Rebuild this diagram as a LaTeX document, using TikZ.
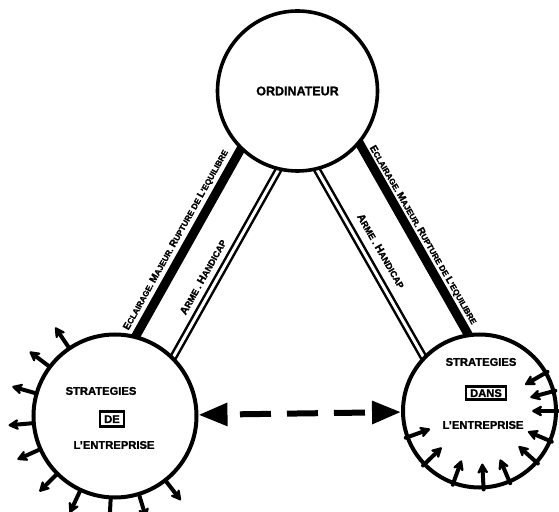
\documentclass[tikz,border=0pt]{standalone}
\usepackage{fontspec}
\setmainfont{Liberation Sans}[BoldFeatures={FakeBold=1.4}]
\usetikzlibrary{arrows.meta,calc}
\pgfdeclarelayer{bg}
\pgfsetlayers{bg,main}
\newcommand\bgsc[1]{{\fontsize{10}{10}\selectfont #1}}
\newcommand\smsc[1]{{\fontsize{8.2}{8.2}\selectfont #1}}
\newcommand\bgscb[1]{{\fontsize{10.8}{10.8}\selectfont #1}}
\newcommand\smscb[1]{{\fontsize{9}{9}\selectfont #1}}
\begin{document}
\begin{tikzpicture}[x=1pt,y=1pt,
  ring/.style={circle,draw,line width=4pt,fill=white,inner sep=0pt},
  bar/.style={line width=9pt},
  dbl/.style={double,line width=2.5pt,double distance=3pt},
  radarrow/.style={draw,line width=4pt,line cap=round,-{Stealth[length=13pt,width=14pt,inset=4.5pt,round]}},
  lbl/.style={font=\bfseries\fontsize{11.2}{12}\selectfont,inner sep=0pt},
  tagbox/.style={draw,line width=2.3pt,font=\bfseries\fontsize{11.2}{12}\selectfont,text height=8pt,text depth=0pt},
  barlbl/.style={font=\bfseries,inner sep=0pt},
  dasharrow/.style={line width=6pt,dash pattern=on 31pt off 16pt,dash phase=33pt,
    {Triangle[length=29pt,width=22pt]}-{Triangle[length=29pt,width=22pt]}}
]
\useasboundingbox (0,0) rectangle (559,511);
\node[ring,line width=3.6pt,minimum size=160pt,font=\bfseries\fontsize{12.5}{13}\selectfont] (nTop) at (297.5,420) {ORDINATEUR};
\node[ring,minimum size=163pt] (nLeft) at (115,95) {};
\node[ring,minimum size=153pt] (nRight) at (479.5,100) {};
\begin{pgfonlayer}{bg}
\draw[bar] ($(nTop.center)!21pt!-90:(nLeft.center)$) -- ($(nLeft.center)!21pt!90:(nTop.center)$);
\draw[dbl] ($(nTop.center)!22pt!90:(nLeft.center)$) -- ($(nLeft.center)!22pt!-90:(nTop.center)$);
\draw[bar] ($(nTop.center)!28pt!90:(nRight.center)$) -- ($(nRight.center)!28pt!-90:(nTop.center)$);
\draw[dbl] ($(nTop.center)!22pt!-90:(nRight.center)$) -- ($(nRight.center)!22pt!90:(nTop.center)$);
\end{pgfonlayer}
% texts inside circles
\node[lbl] (sL1) at (101,120) {STRATEGIES};
\node[tagbox,inner xsep=4.5pt,inner ysep=3.5pt] (sL2) at (112,92) {DE};
\node[lbl] (sL3) at (114,66) {L'ENTREPRISE};
\node[lbl] (sR1) at (481,149) {STRATEGIES};
\node[tagbox,inner xsep=4pt,inner ysep=2.5pt] (sR2) at (486,118) {DANS};
\node[lbl] (sR3) at (483,86) {L'ENTREPRISE};
% bar labels
\node[barlbl,rotate=60.8] (tL1) at (176,271) {\bgsc{E}\smsc{CLAIRAGE. }\bgsc{M}\smsc{AJEUR. }\bgsc{R}\smsc{UPTURE DE }\bgsc{L}\smsc{'EQUILIBRE}};
\node[barlbl,rotate=60.8] (tL2) at (203,234) {\bgscb{A}\smscb{RME . }\bgscb{H}\smscb{ANDICAP}};
\node[barlbl,rotate=-60] (tR1) at (423,276) {\bgsc{E}\smsc{CLAIRAGE. }\bgsc{M}\smsc{AJEUR. }\bgsc{R}\smsc{UPTURE DE }\bgsc{L}\smsc{'EQUILIBRE}};
\node[barlbl,rotate=-60] (tR2) at (381,260) {\bgscb{A}\smscb{RME . }\bgscb{H}\smscb{ANDICAP}};
% radial arrows
\foreach \a in {124,143,164,185,204,225,245,267,287,308}{
  \path[radarrow] (nLeft.\a) -- ($(nLeft.center)!1.28!(nLeft.\a)$);
}
\foreach \a in {200,224,250,273,293,318,337,0,15,30}{
  \path[radarrow] (nRight.\a) -- ($(nRight.center)!0.67!(nRight.\a)$);
}
% dashed double arrow
\draw[dasharrow] (nLeft) -- (nRight);
\end{tikzpicture}
\end{document}
